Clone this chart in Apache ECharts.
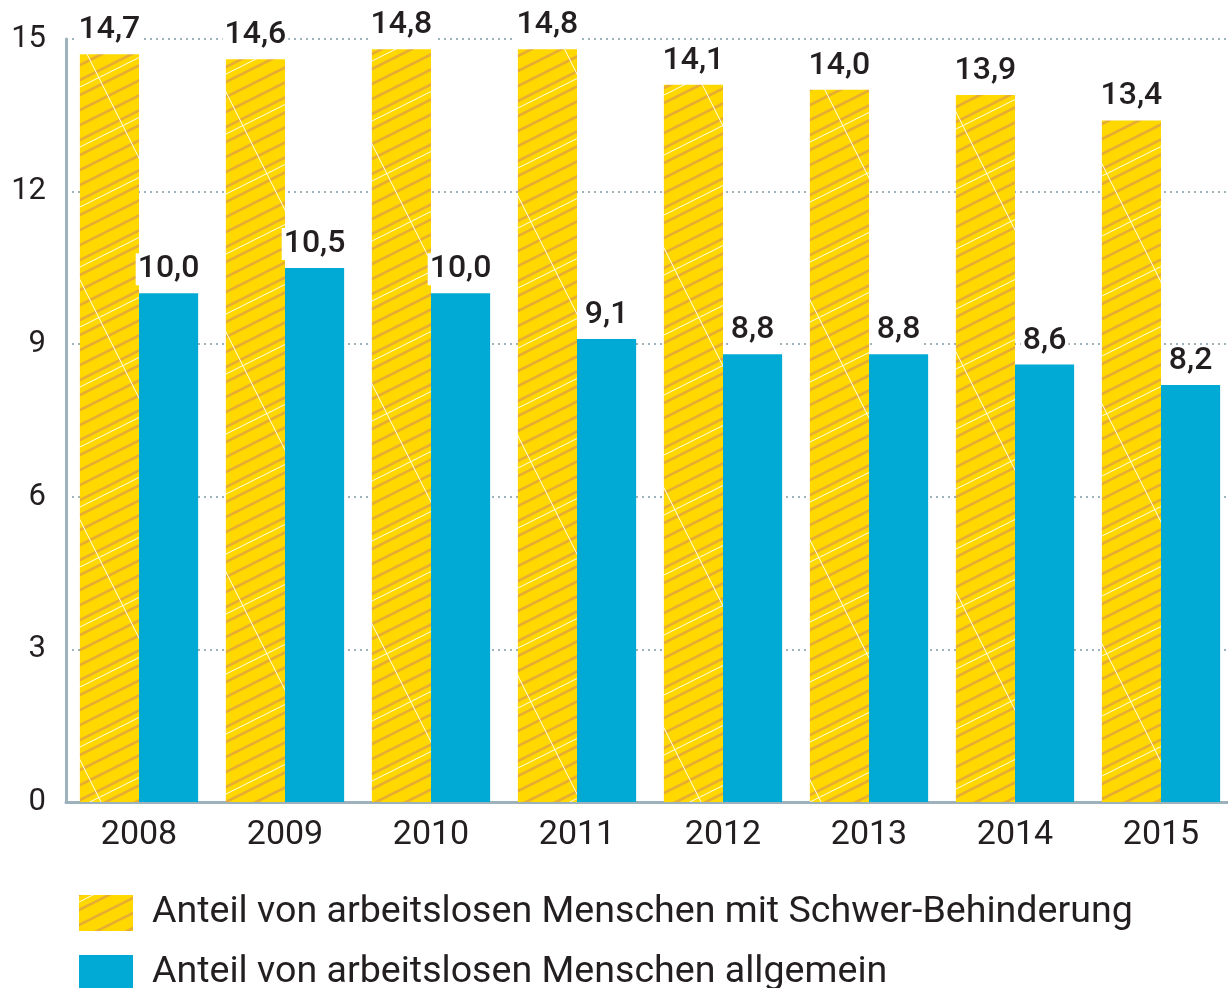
<!DOCTYPE html>
<html>
<head>
<meta charset="utf-8">
<script src="https://cdn.jsdelivr.net/npm/echarts@6/dist/echarts.min.js"></script>
<style>
  html, body { margin: 0; padding: 0; background: #fff; }
  #chart { width: 1228px; height: 988px; }
</style>
</head>
<body>
<div id="chart"></div>
<script>
// Daten
const years = ['2008', '2009', '2010', '2011', '2012', '2013', '2014', '2015'];
const schwerBehindert = [14.7, 14.6, 14.8, 14.8, 14.1, 14.0, 13.9, 13.4];
const allgemein = [10.0, 10.5, 10.0, 9.1, 8.8, 8.8, 8.6, 8.2];
const seriesNames = [
  'Anteil von arbeitslosen Menschen mit Schwer-Behinderung',
  'Anteil von arbeitslosen Menschen allgemein'
];

const yellow = '#ffd800';
const blue = '#00aad4';
const textColor = '#231f20';
const axisGrey = '#9db2ba';

// Schraffur für gelbe Balken
function makePattern() {
  const w = 120, h = 240;
  const c = document.createElement('canvas');
  c.width = w; c.height = h;
  const ctx = c.getContext('2d');
  ctx.fillStyle = yellow;
  ctx.fillRect(0, 0, w, h);
  // orange Linien, flach ansteigend
  ctx.strokeStyle = '#e6ad32';
  ctx.lineWidth = 2.5;
  for (let k = -300; k < 600; k += 15) {
    ctx.beginPath();
    ctx.moveTo(-10, k + 5);
    ctx.lineTo(w + 10, k - (w + 10) * 0.5);
    ctx.stroke();
  }
  // weiße Linien, flach
  ctx.strokeStyle = 'rgba(255,255,255,0.95)';
  ctx.lineWidth = 1;
  for (let k = -300; k < 600; k += 60) {
    ctx.beginPath();
    ctx.moveTo(-10, k + 5 + 7);
    ctx.lineTo(w + 10, k + 7 - (w + 10) * 0.5);
    ctx.stroke();
  }
  // weiße Linien, steil
  for (let k = -300; k < 600; k += 120) {
    ctx.beginPath();
    ctx.moveTo(k - 5, -10);
    ctx.lineTo(k + (h + 10) * 0.5, h + 10);
    ctx.stroke();
  }
  return c;
}

const chart = echarts.init(document.getElementById('chart'));
const pattern = { image: makePattern(), repeat: 'repeat' };

const labelStyle = {
  show: true,
  position: 'top',
  distance: 8,
  fontFamily: 'Roboto',
  fontWeight: 500,
  fontSize: 32,
  color: textColor,
  backgroundColor: '#fff',
  padding: [0, 2, 0, 2],
  formatter: p => p.value.toFixed(1).replace('.', ',')
};

chart.setOption({
  animation: false,
  textStyle: { fontFamily: 'Roboto' },
  grid: { left: 66, right: -6, top: 39, bottom: 186, outerBoundsMode: 'none' },
  legend: {
    orient: 'vertical',
    left: 79,
    top: 894,
    height: 140,
    padding: 0,
    itemWidth: 54,
    itemHeight: 36,
    itemGap: 22,
    icon: 'rect',
    textStyle: {
      fontFamily: 'Roboto',
      fontSize: 37.6,
      color: textColor,
      padding: [0, 0, 0, 14]
    },
    data: seriesNames
  },
  xAxis: {
    type: 'category',
    data: years,
    axisLine: { lineStyle: { color: axisGrey, width: 3 } },
    axisTick: { show: false },
    axisLabel: { fontSize: 34, color: textColor, margin: 16 }
  },
  yAxis: {
    type: 'value',
    min: 0,
    max: 15,
    interval: 3,
    axisLine: { show: true, lineStyle: { color: axisGrey, width: 3 } },
    axisTick: { show: false },
    axisLabel: { fontSize: 31, color: textColor, margin: 20 },
    splitLine: { lineStyle: { color: axisGrey, width: 2, type: [2, 4] } }
  },
  series: [
    {
      name: seriesNames[0],
      type: 'bar',
      data: schwerBehindert,
      barGap: '0%',
      barCategoryGap: '19%',
      itemStyle: { color: pattern },
      label: labelStyle
    },
    {
      name: seriesNames[1],
      type: 'bar',
      data: allgemein,
      itemStyle: { color: blue },
      label: labelStyle
    }
  ]
});
</script>
</body>
</html>
